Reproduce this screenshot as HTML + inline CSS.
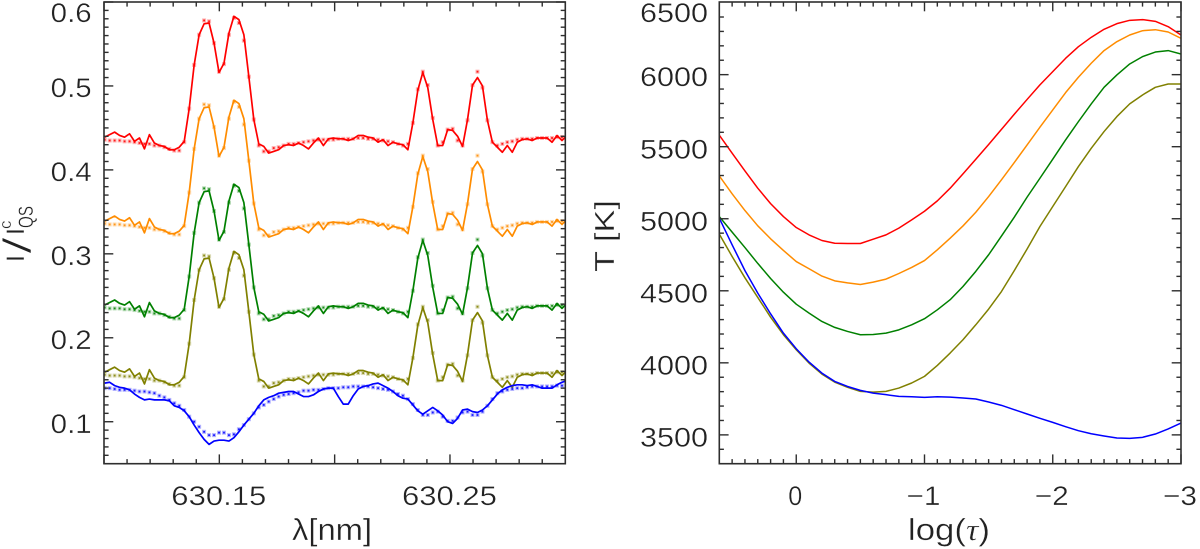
<!DOCTYPE html>
<html lang="en">
<head>
<meta charset="utf-8">
<title>Stokes I profiles and temperature stratification</title>
<style>
html,body{margin:0;padding:0;background:#fff;}
svg{display:block;}
text{font-family:"Liberation Sans",sans-serif;fill:#222;stroke:#fff;stroke-width:.35px;paint-order:normal;}
</style>
</head>
<body>
<svg id="figure" xmlns="http://www.w3.org/2000/svg" width="1200" height="549" viewBox="0 0 1200 549">
<defs>
<clipPath id="clipL"><rect x="104" y="2" width="461.3" height="461.7"/></clipPath>
<clipPath id="clipR"><rect x="719.3" y="2" width="461.7" height="461.7"/></clipPath>
</defs>
<g id="left-marks" clip-path="url(#clipL)"></g>
<g id="right-marks" clip-path="url(#clipR)"></g>
<g id="axes"></g>
<text x="292" y="540" font-size="31" textLength="80" lengthAdjust="spacingAndGlyphs">λ[nm]</text>
<text x="908" y="540" font-size="31" textLength="82" lengthAdjust="spacingAndGlyphs">log(<tspan font-family="Liberation Serif" font-style="italic">τ</tspan>)</text>
<g>
<text transform="translate(24,262) rotate(-90)" font-size="25">I</text>
<text transform="translate(31,254) rotate(-90)" font-size="40" textLength="17" lengthAdjust="spacingAndGlyphs" style="stroke-width:1px">/</text>
<text transform="translate(24,235) rotate(-90)" font-size="25">I</text>
<text transform="translate(11,229) rotate(-90)" font-size="17">c</text>
<text transform="translate(33,228) rotate(-90)" font-size="21" textLength="22" lengthAdjust="spacingAndGlyphs">QS</text>
</g>
<text transform="translate(614,272) rotate(-90)" font-size="28" textLength="72" lengthAdjust="spacingAndGlyphs">T [K]</text>
</svg>
<script>
// ---- left panel: wavelength sampling ----
const lambdaStart = 630.1003;
const lambdaStep = 0.002155;

// ---- left panel: observed profiles (solid) ----
const redObserved = [.439,.442,.445,.441,.439,.443,.434,.438,.425,.442,.432,.429,.428,.424,.424,.427,.434,.473,.525,.561,.574,.575,.551,.516,.527,.563,.583,.579,.561,.511,.460,.431,.428,.420,.422,.424,.429,.430,.429,.432,.429,.425,.432,.438,.429,.437,.438,.437,.437,.435,.437,.441,.441,.439,.438,.433,.436,.429,.433,.431,.430,.424,.456,.495,.516,.498,.460,.429,.429,.448,.447,.440,.428,.460,.501,.510,.500,.459,.433,.427,.421,.429,.421,.433,.436,.437,.435,.438,.438,.438,.433,.441,.435,.441];
const orangeObserved = [.339,.342,.345,.341,.339,.343,.334,.338,.325,.342,.332,.329,.328,.324,.324,.327,.334,.373,.425,.461,.474,.475,.451,.416,.427,.463,.483,.479,.461,.411,.360,.331,.328,.320,.322,.324,.329,.330,.329,.332,.329,.325,.332,.338,.329,.337,.338,.337,.337,.335,.337,.341,.341,.339,.338,.333,.336,.329,.333,.331,.330,.324,.356,.395,.416,.398,.360,.329,.329,.348,.347,.340,.328,.360,.401,.410,.400,.359,.333,.327,.321,.329,.321,.333,.336,.337,.335,.338,.338,.338,.333,.341,.335,.341];
const greenObserved = [.239,.242,.245,.241,.239,.243,.234,.238,.225,.242,.232,.229,.228,.224,.224,.227,.234,.273,.325,.361,.374,.375,.351,.316,.327,.363,.383,.379,.361,.311,.260,.231,.228,.220,.222,.224,.229,.230,.229,.232,.229,.225,.232,.238,.229,.237,.238,.237,.237,.235,.237,.241,.241,.239,.238,.233,.236,.229,.233,.231,.230,.224,.256,.295,.316,.298,.260,.229,.229,.248,.247,.240,.228,.260,.301,.310,.300,.259,.233,.227,.221,.229,.221,.233,.236,.237,.235,.238,.238,.238,.233,.241,.235,.241];
const oliveObserved = [.159,.162,.165,.161,.159,.163,.154,.158,.145,.162,.152,.149,.148,.144,.144,.147,.154,.193,.245,.281,.294,.295,.271,.236,.247,.283,.303,.299,.281,.231,.180,.151,.148,.140,.142,.144,.149,.150,.149,.152,.149,.145,.152,.158,.149,.157,.158,.157,.157,.155,.157,.161,.161,.159,.158,.153,.156,.149,.153,.151,.150,.144,.176,.215,.236,.218,.180,.149,.149,.168,.167,.160,.148,.180,.221,.230,.220,.179,.153,.147,.141,.149,.141,.153,.156,.157,.155,.158,.158,.158,.153,.161,.155,.161];
const blueObserved = [.146,.147,.143,.141,.140,.138,.133,.129,.126,.127,.126,.126,.126,.125,.119,.117,.113,.106,.096,.087,.079,.073,.077,.078,.078,.077,.081,.088,.096,.103,.110,.119,.126,.129,.131,.134,.135,.136,.136,.133,.130,.130,.132,.136,.139,.140,.140,.130,.121,.121,.131,.139,.142,.143,.145,.146,.143,.140,.136,.131,.128,.127,.120,.113,.109,.113,.117,.113,.108,.100,.098,.104,.114,.115,.112,.111,.114,.119,.126,.133,.138,.141,.143,.144,.144,.143,.144,.142,.140,.140,.140,.144,.147,.149];

// ---- left panel: fitted profiles (dots) ----
const redFit = [.436,.435,.435,.435,.434,.434,.433,.432,.431,.431,.429,.429,.427,.425,.423,.423,.433,.473,.525,.561,.578,.577,.551,.517,.526,.561,.581,.575,.554,.511,.460,.429,.422,.422,.426,.427,.429,.431,.431,.432,.433,.434,.435,.436,.436,.436,.436,.437,.437,.437,.437,.438,.438,.437,.437,.436,.435,.434,.433,.431,.429,.431,.456,.496,.517,.501,.462,.429,.433,.448,.449,.435,.429,.459,.501,.517,.498,.459,.433,.429,.431,.433,.434,.436,.437,.437,.437,.438,.438,.438,.438,.439,.439,.439];
const orangeFit = [.336,.335,.335,.335,.334,.334,.333,.332,.331,.331,.329,.329,.327,.325,.323,.323,.333,.373,.425,.461,.478,.477,.451,.417,.426,.461,.481,.475,.454,.411,.360,.329,.322,.322,.326,.327,.329,.331,.331,.332,.333,.334,.335,.336,.336,.336,.336,.337,.337,.337,.337,.338,.338,.337,.337,.336,.335,.334,.333,.331,.329,.331,.356,.396,.417,.401,.362,.329,.333,.348,.349,.335,.329,.359,.401,.417,.398,.359,.333,.329,.331,.333,.334,.336,.337,.337,.337,.338,.338,.338,.338,.339,.339,.339];
const greenFit = [.236,.235,.235,.235,.234,.234,.233,.232,.231,.231,.229,.229,.227,.225,.223,.223,.233,.273,.325,.361,.378,.377,.351,.317,.326,.361,.381,.375,.354,.311,.260,.229,.222,.222,.226,.227,.229,.231,.231,.232,.233,.234,.235,.236,.236,.236,.236,.237,.237,.237,.237,.238,.238,.237,.237,.236,.235,.234,.233,.231,.229,.231,.256,.296,.317,.301,.262,.229,.233,.248,.249,.235,.229,.259,.301,.317,.298,.259,.233,.229,.231,.233,.234,.236,.237,.237,.237,.238,.238,.238,.238,.239,.239,.239];
const oliveFit = [.156,.155,.155,.155,.154,.154,.153,.152,.151,.151,.149,.149,.147,.145,.143,.143,.153,.193,.245,.281,.298,.297,.271,.237,.246,.281,.301,.295,.274,.231,.180,.149,.142,.142,.146,.147,.149,.151,.151,.152,.153,.154,.155,.156,.156,.156,.156,.157,.157,.157,.157,.158,.158,.157,.157,.156,.155,.154,.153,.151,.149,.151,.176,.216,.237,.221,.182,.149,.153,.168,.169,.155,.149,.179,.221,.237,.218,.179,.153,.149,.151,.153,.154,.156,.157,.157,.157,.158,.158,.158,.158,.159,.159,.159];
const blueFit = [.140,.140,.139,.138,.138,.138,.137,.136,.136,.135,.134,.131,.129,.126,.122,.119,.114,.106,.100,.094,.088,.084,.084,.087,.087,.084,.085,.091,.096,.103,.110,.117,.120,.124,.127,.130,.132,.133,.134,.135,.137,.137,.138,.138,.139,.140,.140,.140,.141,.141,.142,.142,.142,.142,.141,.140,.139,.138,.136,.133,.131,.127,.121,.114,.108,.108,.111,.112,.106,.101,.101,.105,.111,.112,.108,.108,.112,.119,.127,.134,.136,.138,.139,.140,.140,.141,.142,.142,.142,.142,.142,.143,.143,.143];

// ---- right panel: optical depth grid and temperature curves ----
const logTau = [0.6,0.5,0.4,0.3,0.2,0.1,0,-0.1,-0.2,-0.3,-0.4,-0.5,-0.6,-0.7,-0.8,-0.9,-1,-1.1,-1.2,-1.3,-1.4,-1.5,-1.6,-1.7,-1.8,-1.9,-2,-2.1,-2.2,-2.3,-2.4,-2.5,-2.6,-2.7,-2.8,-2.9,-3];
const redTemp = [5580,5455,5332,5212,5105,5015,4939,4888,4849,4830,4828,4828,4858,4888,4935,4992,5052,5124,5212,5311,5413,5515,5620,5725,5828,5929,6021,6113,6194,6259,6315,6354,6377,6382,6370,6333,6275];
const orangeTemp = [5297,5173,5057,4951,4861,4780,4703,4653,4602,4569,4555,4544,4560,4581,4620,4662,4710,4784,4865,4950,5045,5154,5270,5390,5512,5635,5755,5875,5982,6079,6167,6229,6275,6305,6312,6296,6252];
const greenTemp = [5015,4907,4800,4690,4585,4490,4407,4345,4287,4246,4218,4195,4197,4206,4229,4264,4306,4368,4438,4530,4635,4750,4880,5011,5150,5281,5413,5547,5674,5797,5912,5998,6074,6125,6157,6167,6143];
const oliveTemp = [4893,4738,4590,4454,4317,4195,4091,3998,3922,3866,3830,3802,3797,3802,3825,3860,3906,3982,4068,4160,4264,4373,4495,4640,4790,4946,5085,5223,5362,5489,5605,5709,5797,5859,5912,5935,5935];
const blueTemp = [5004,4819,4640,4484,4340,4206,4098,4005,3929,3871,3836,3809,3790,3779,3767,3765,3760,3765,3762,3756,3749,3728,3705,3675,3645,3615,3587,3557,3529,3508,3492,3478,3476,3483,3506,3541,3582];

// ---- tick labels ----
const leftYTicks = [0.1,0.2,0.3,0.4,0.5,0.6];
const leftYLabels = ["0.1","0.2","0.3","0.4","0.5","0.6"];
const leftXTicks = [630.15,630.25];
const leftXLabels = ["630.15","630.25"];
const rightYTicks = [3500,4000,4500,5000,5500,6000,6500];
const rightYLabels = ["3500","4000","4500","5000","5500","6000","6500"];
const rightXTicks = [0,-1,-2,-3];
const rightXLabels = ["0","\u22121","\u22122","\u22123"];

const NS = "http://www.w3.org/2000/svg";
const L = {x0:104, x1:565.3, y0:463.7, y1:2};
const R = {x0:719.3, x1:1181, y0:463.7, y1:2};
const leftX = v => L.x0 + (v - 630.10) / 0.20 * (L.x1 - L.x0);
const leftY = v => L.y0 + (v - 0.05) / 0.55 * (L.y1 - L.y0);
const rightX = v => R.x0 + (0.6 - v) / 3.6 * (R.x1 - R.x0);
const rightY = v => R.y0 + (v - 3300) / 3200 * (R.y1 - R.y0 + 0.6);

function make(tag, attrs, parent) {
  const el = document.createElementNS(NS, tag);
  for (const k in attrs) el.setAttribute(k, attrs[k]);
  parent.appendChild(el);
  return el;
}

const leftG = document.getElementById("left-marks");
const rightG = document.getElementById("right-marks");
const axesG = document.getElementById("axes");

function drawProfile(obs, fit, color, label) {
  const g = make("g", {}, leftG);
  
  
  fit.forEach((v, i) => {
    const cx = leftX(lambdaStart + i * lambdaStep);
    const cy = leftY(v);
    const halo = make("rect", {x:cx-2, y:cy-2, width:4, height:4, fill:color, opacity:0.3}, g);
    
    
    const dot = make("rect", {x:cx-0.9, y:cy-0.9, width:1.8, height:1.8, fill:color, opacity:0.85}, g);
    
    
  });
  const d = obs.map((v, i) => (i ? "L" : "M") + leftX(lambdaStart + i * lambdaStep).toFixed(2) + " " + leftY(v).toFixed(2)).join("");
  const line = make("path", {d:d, fill:"none", stroke:color, "stroke-width":1.7, "stroke-linejoin":"round"}, g);
  
  
}

function drawTemp(vals, color, label) {
  const d = vals.map((v, i) => (i ? "L" : "M") + rightX(logTau[i]).toFixed(2) + " " + rightY(v).toFixed(2)).join("");
  const line = make("path", {d:d, fill:"none", stroke:color, "stroke-width":1.5, "stroke-linejoin":"round"}, rightG);
  
  
}

drawProfile(redObserved, redFit, "#ff0000", "red");
drawProfile(orangeObserved, orangeFit, "#ff8c00", "orange");
drawProfile(greenObserved, greenFit, "#008000", "green");
drawProfile(oliveObserved, oliveFit, "#808000", "olive");
drawProfile(blueObserved, blueFit, "#0000ff", "blue");

drawTemp(oliveTemp, "#808000", "olive");
drawTemp(redTemp, "#ff0000", "red");
drawTemp(orangeTemp, "#ff8c00", "orange");
drawTemp(greenTemp, "#008000", "green");
drawTemp(blueTemp, "#0000ff", "blue");

const AXIS = "#2e2e2e";
function tick(x1, y1, x2, y2, name) {
  const t = make("line", {x1:x1, y1:y1, x2:x2, y2:y2, stroke:AXIS, "stroke-width":1.4}, axesG);
  
  
}
function frame(b, name) {
  const r = make("rect", {x:b.x0, y:b.y1, width:b.x1-b.x0, height:b.y0-b.y1, fill:"none", stroke:AXIS, "stroke-width":1.6}, axesG);
  
  
}
function label(str, x, y, w, name) {
  const t = make("text", {x:x, y:y, "font-size":27, textLength:w, lengthAdjust:"spacingAndGlyphs"}, axesG);
  t.textContent = str;
  
  
}

const MAJOR = 9.3, MINOR = 4.6;

// left panel ticks
frame(L, 'left-plot-frame');
for (let k = 0; k <= 20; k++) {
  const v = 630.10 + k * 0.01;
  const len = k % 5 === 0 ? MAJOR : MINOR;
  tick(leftX(v), L.y0, leftX(v), L.y0 - len, 'left-x-tick-bottom');
  tick(leftX(v), L.y1, leftX(v), L.y1 + len, 'left-x-tick-top');
}
for (let k = 0; k <= 55; k++) {
  const v = 0.05 + k * 0.01;
  const len = (k + 5) % 10 === 0 ? MAJOR : MINOR;
  tick(L.x0, leftY(v), L.x0 + len, leftY(v), 'left-y-tick-left');
  tick(L.x1, leftY(v), L.x1 - len, leftY(v), 'left-y-tick-right');
}
leftYTicks.forEach((v, i) => {
  label(leftYLabels[i], 50.7, Math.max(22, leftY(v) + 11.2), 41, 'left-y-tick-label');
});
leftXTicks.forEach((v, i) => {
  label(leftXLabels[i], leftX(v) - 48, 505, 95, 'left-x-tick-label');
});

// right panel ticks
frame(R, 'right-plot-frame');
for (let k = 0; k <= 36; k++) {
  const v = 0.6 - k * 0.1;
  const len = (k + 4) % 10 === 0 ? MAJOR : MINOR;
  tick(rightX(v), R.y0, rightX(v), R.y0 - len, 'right-x-tick-bottom');
  tick(rightX(v), R.y1, rightX(v), R.y1 + len, 'right-x-tick-top');
}
for (let k = 0; k <= 32; k++) {
  const v = 3300 + k * 100;
  if (rightY(v) < R.y1 + 1) continue;
  const len = (k + 3) % 5 === 0 ? MAJOR : MINOR;
  tick(R.x0, rightY(v), R.x0 + len, rightY(v), 'right-y-tick-left');
  tick(R.x1, rightY(v), R.x1 - len, rightY(v), 'right-y-tick-right');
}
rightYTicks.forEach((v, i) => {
  label(rightYLabels[i], 640, Math.max(22, rightY(v) + 11.6), 68, 'right-y-tick-label');
});
rightXTicks.forEach((v, i) => {
  const w = rightXLabels[i].length > 1 ? 34 : 14;
  label(rightXLabels[i], rightX(v) - w / 2 - 1, 505, w, 'right-x-tick-label');
});
</script>
</body>
</html>
